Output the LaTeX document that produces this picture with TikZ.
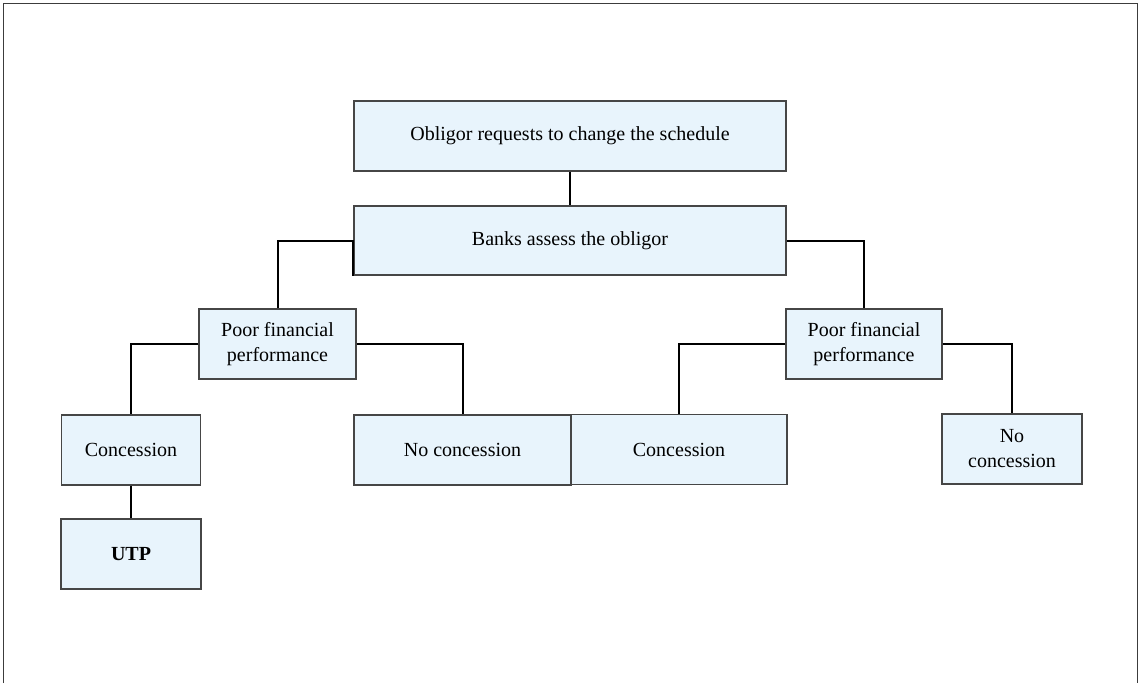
\documentclass[tikz,border=0pt]{standalone}
\usepackage{fontspec}
\setmainfont{Liberation Serif}
\definecolor{boxfill}{RGB}{232,244,252}
\definecolor{boxline}{RGB}{70,70,70}
\definecolor{framecol}{RGB}{60,60,60}
\begin{document}
\begin{tikzpicture}[x=1pt,y=-1pt,
  box/.style={draw=boxline,line width=1.1pt,fill=boxfill,rectangle,inner sep=0pt,
    align=center,font=\fontsize{20}{25}\selectfont,text=black},
  link/.style={draw=black,line width=2pt}]
\useasboundingbox (0,0) rectangle (1139,683);
% outer frame
\draw[framecol,line width=1.5pt] (3.5,683) -- (3.5,3.5) -- (1137.5,3.5) -- (1137.5,683);

% boxes
\node[box,minimum width=432pt,minimum height=70pt] (req) at (570,136) {Obligor requests to change the schedule};
\node[box,minimum width=432pt,minimum height=69pt] (assess) at (570,240.5) {Banks assess the obligor};
\node[box,minimum width=157pt,minimum height=70pt] (poorL) at (277.5,344) {Poor financial\\performance};
\node[box,minimum width=156pt,minimum height=70pt] (poorR) at (864,344) {Poor financial\\performance};
\node[box,minimum width=139pt,minimum height=70pt] (concL) at (131,450) {Concession};
\node[box,minimum width=217pt,minimum height=70pt] (nocL) at (462.5,450) {No concession};
\node[box,minimum width=216pt,minimum height=70pt] (concR) at (679,449.5) {Concession};
\node[box,minimum width=140pt,minimum height=70pt] (nocR) at (1012,449) {No\\concession};
\node[box,minimum width=140pt,minimum height=70pt] (utp) at (131,554) {\bfseries UTP};

% connectors
\draw[link] (req.south) -- (assess.north);
\draw[link] (poorL.north) |- (assess.west) -- (assess.south west);
\draw[link] (assess.east) -| (poorR.north);
\draw[link] (poorL.west) -| (concL.north);
\draw[link] (poorL.east) -| (nocL.north);
\draw[link] (poorR.west) -| (concR.north);
\draw[link] (poorR.east) -| (nocR.north);
\draw[link] (concL.south) -- (utp.north);
\end{tikzpicture}
\end{document}
